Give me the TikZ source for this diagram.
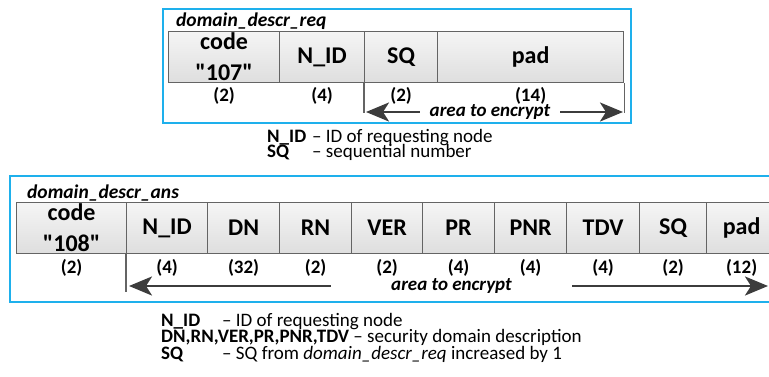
\documentclass[tikz,border=0pt]{standalone}
\usepackage{fontspec}
% no TeX mapping, so a typed " stays a straight quote
\setmainfont{Carlito}[Ligatures=TeXOff]
\usetikzlibrary{arrows.meta}

\definecolor{frameblue}{RGB}{30,176,236}
\definecolor{cellrule}{RGB}{100,100,100}
\definecolor{celltop}{RGB}{245,245,245}
\definecolor{cellbot}{RGB}{222,222,222}
\definecolor{arrowgray}{RGB}{60,60,60}

% let legend lines sit closer than their glyph boxes allow
\newcommand{\tightlines}{\lineskiplimit=-50pt\relax}

\tikzset{
  msgframe/.style={draw=frameblue, line width=1.5pt},
  field/.style={draw=cellrule, line width=1.2pt, top color=celltop, bottom color=cellbot,
    anchor=north west, inner sep=0pt, align=center, minimum height=51pt,
    font=\fontsize{24}{31}\selectfont\bfseries},
  fsize/.style={font=\fontsize{19}{22}\selectfont\bfseries, inner sep=0pt},
  msgname/.style={font=\fontsize{19.5}{22}\selectfont\bfseries\itshape, anchor=base west, inner sep=0pt},
  legend/.style={anchor=base west, inner sep=0pt, align=left},
  guide/.style={draw=cellrule, line width=1.2pt},
  encarrow/.style={draw=arrowgray, line width=2.6pt, -{Stealth[length=23pt,width=19pt,inset=6pt]}},
  enctext/.style={font=\fontsize{19}{22}\selectfont\bfseries\itshape, inner ysep=0pt, inner xsep=0pt}
}

\begin{document}
\begin{tikzpicture}[x=1pt, y=-1pt]
\useasboundingbox (0,0) rectangle (769,376);
\clip (0,0) rectangle (769,376);

% ---------- request message ----------
\draw[msgframe] (163,9) rectangle (631,123);
\node[msgname] (reqname) at (176,26) {domain\_descr\_req};

\node[field, minimum width=111pt] (q1) at (168,31) {code\\"107"};
\node[field, minimum width=85pt]  (q2) at (279,31) {N\_ID};
\node[field, minimum width=73pt]  (q3) at (364,31) {SQ};
\node[field, minimum width=186pt] (q4) at (437,31) {pad};

\node[fsize] (q1s) at ([yshift=-13pt]q1.south) {(2)};
\node[fsize] (q2s) at ([yshift=-13pt]q2.south) {(4)};
\node[fsize] (q3s) at ([yshift=-13pt]q3.south) {(2)};
\node[fsize] (q4s) at ([yshift=-13pt]q4.south) {(14)};

\draw[guide] (q3.south west) -- ++(0,30);
\draw[guide] (q4.south east) -- ++(0,30);

\coordinate (qtipl) at (366,112);
\coordinate (qtipr) at (623,112);
\node[enctext, fill=white, minimum width=140pt] (qenc) at (490,112) {area to encrypt};
\draw[encarrow] (qenc.west) -- (qtipl);
\draw[encarrow] (qenc.east) -- (qtipr);

% base anchor of a multi-line node is the baseline of its last line
\node[legend, font=\fontsize{19}{15.5}\selectfont\tightlines] (qleg) at (267,157.5)
  {\makebox[45pt][l]{\textbf{N\_ID}}– ID of requesting node\\
   \makebox[45pt][l]{\textbf{SQ}}– sequential number};

% ---------- answer message ----------
\draw[msgframe] (10,176) rectangle (790,302);
\node[msgname] (ansname) at (27,198) {domain\_descr\_ans};

\node[field, minimum width=110pt] (a1)  at (16,202)  {code\\"108"};
\node[field, minimum width=81pt]  (a2)  at (126,202) {N\_ID};
\node[field, minimum width=72pt]  (a3)  at (207,202) {DN};
\node[field, minimum width=72pt]  (a4)  at (279,202) {RN};
\node[field, minimum width=71pt]  (a5)  at (351,202) {VER};
\node[field, minimum width=72pt]  (a6)  at (422,202) {PR};
\node[field, minimum width=72pt]  (a7)  at (494,202) {PNR};
\node[field, minimum width=73pt]  (a8)  at (566,202) {TDV};
\node[field, minimum width=67pt]  (a9)  at (639,202) {SQ};
\node[field, minimum width=70pt]  (a10) at (706,202) {pad};

\node[fsize] (a1s)  at ([yshift=-14pt]a1.south)  {(2)};
\node[fsize] (a2s)  at ([yshift=-14pt]a2.south)  {(4)};
\node[fsize] (a3s)  at ([yshift=-14pt]a3.south)  {(32)};
\node[fsize] (a4s)  at ([yshift=-14pt]a4.south)  {(2)};
\node[fsize] (a5s)  at ([yshift=-14pt]a5.south)  {(2)};
\node[fsize] (a6s)  at ([yshift=-14pt]a6.south)  {(4)};
\node[fsize] (a7s)  at ([yshift=-14pt]a7.south)  {(4)};
\node[fsize] (a8s)  at ([yshift=-14pt]a8.south)  {(4)};
\node[fsize] (a9s)  at ([yshift=-14pt]a9.south)  {(2)};
\node[fsize] (a10s) at ([yshift=-14pt]a10.south) {(12)};

\draw[guide] (a2.south west) -- ++(0,38);

\coordinate (atipl) at (129,286);
\coordinate (atipr) at (768,286);
\node[enctext, minimum width=241pt] (aenc) at (451.5,286) {area to encrypt};
\draw[encarrow] (aenc.west) -- (atipl);
\draw[encarrow] (aenc.east) -- (atipr);

\node[legend, font=\fontsize{19}{16.5}\selectfont\tightlines] (aleg) at (161,359)
  {\makebox[61pt][l]{\textbf{N\_ID}}– ID of requesting node\\
   \textbf{DN,RN,VER,PR,PNR,TDV} – security domain description\\
   \makebox[61pt][l]{\textbf{SQ}}– SQ from \textit{domain\_descr\_req} increased by 1};
\end{tikzpicture}
\end{document}
